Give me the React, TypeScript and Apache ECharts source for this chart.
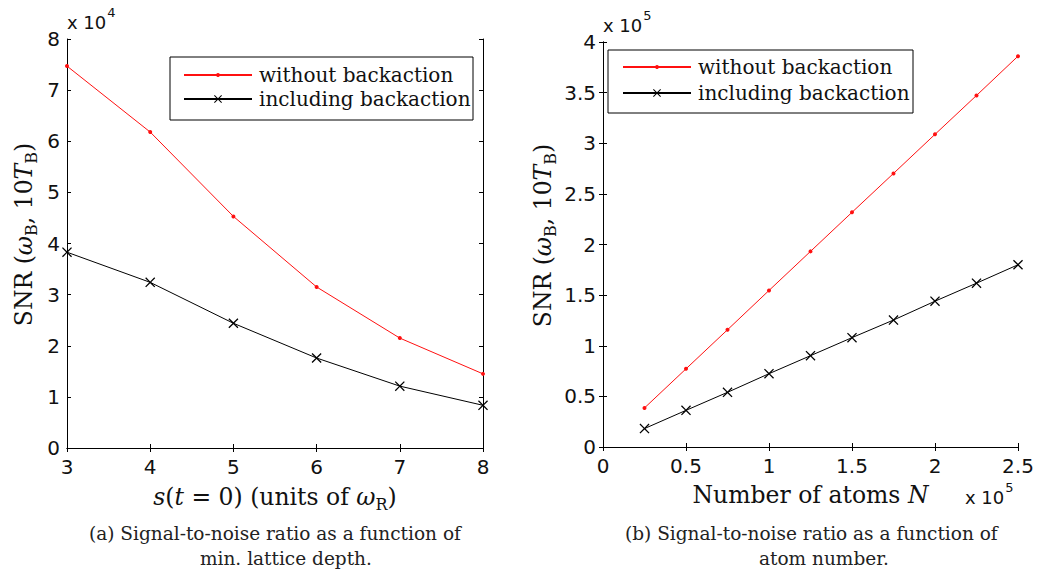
import React, { useEffect, useRef } from "react";
import * as echarts from "echarts";

// Panel (a): SNR versus minimum lattice depth s(t=0), values in units of 1e4
const depthTicks = [3, 4, 5, 6, 7, 8];
const snrTicksA = [0, 1, 2, 3, 4, 5, 6, 7, 8];
const depth = [3, 4, 5, 6, 7, 8];
const snrDepthFree = [7.47, 6.18, 4.53, 3.15, 2.15, 1.45];
const snrDepthBack = [3.83, 3.24, 2.44, 1.76, 1.21, 0.835];

// Panel (b): SNR versus atom number N (units of 1e5), values in units of 1e5
const atomTicks = [0, 0.5, 1, 1.5, 2, 2.5];
const snrTicksB = [0, 0.5, 1, 1.5, 2, 2.5, 3, 3.5, 4];
const atoms = [0.25, 0.5, 0.75, 1, 1.25, 1.5, 1.75, 2, 2.25, 2.5];
const snrAtomsFree = [0.386, 0.772, 1.158, 1.546, 1.932, 2.318, 2.702, 3.088, 3.472, 3.86];
const snrAtomsBack = [0.182, 0.362, 0.54, 0.724, 0.902, 1.08, 1.254, 1.44, 1.618, 1.8];

const NAME_FREE = "without backaction";
const NAME_BACK = "including backaction";

const RED = "#ff1010";
const INK = "#111";
const SERIF = "'DejaVu Serif', serif";
const SANS = "'DejaVu Sans', 'Liberation Sans', sans-serif";

// thin filled cross used as the "x" marker
const CROSS =
  "path://M0,0.9L0.9,0L5,4.1L9.1,0L10,0.9L5.9,5L10,9.1L9.1,10L5,5.9L0.9,10L0,9.1L4.1,5Z";

const pairs = (xs: number[], ys: number[]) => xs.map((x, i) => [x, ys[i]]);

const TITLE_SIZE = 23.5;

const richMath = {
  i: { fontFamily: SERIF, fontSize: TITLE_SIZE, fontStyle: "italic", lineHeight: 28, color: INK },
  s: { fontFamily: SERIF, fontSize: 16, lineHeight: 16, padding: [14, 0, 0, 0], color: INK },
};

const nameStyle = (padding: number[]) => ({
  fontFamily: SERIF,
  fontSize: TITLE_SIZE,
  lineHeight: 28,
  color: INK,
  padding,
  rich: richMath,
});

const tickLabel = { fontFamily: SANS, fontSize: 20, color: INK };
const axisLine = { show: true, lineStyle: { color: "#000", width: 1 } };
const tickIn = { show: true, inside: true, length: 4, lineStyle: { color: "#000", width: 1 } };

function axisRange(ticks: number[]) {
  return { min: ticks[0], max: ticks[ticks.length - 1], interval: ticks[1] - ticks[0] };
}

function makeAxes(gridIndex: number, xTicks: number[], yTicks: number[], xName: string, yName: string, xGap: number, yGap: number) {
  const xr = axisRange(xTicks);
  const yr = axisRange(yTicks);
  const xAxes = [
    {
      type: "value", gridIndex, position: "bottom", ...xr,
      axisLine, axisTick: tickIn, splitLine: { show: false },
      axisLabel: { ...tickLabel, margin: 9 },
      name: xName, nameLocation: "middle", nameGap: xGap, nameTextStyle: nameStyle([0, 0, 0, 0]),
    },
    {
      type: "value", gridIndex, position: "top", ...xr,
      axisLine, axisTick: tickIn, splitLine: { show: false }, axisLabel: { show: false },
    },
  ];
  const yAxes = [
    {
      type: "value", gridIndex, position: "left", ...yr,
      axisLine, axisTick: tickIn, splitLine: { show: false },
      axisLabel: { ...tickLabel, margin: 7 },
      name: yName, nameLocation: "middle", nameRotate: 90, nameGap: yGap,
      nameTextStyle: nameStyle([0, 0, 0, 18]),
    },
    {
      type: "value", gridIndex, position: "right", ...yr,
      axisLine, axisTick: tickIn, splitLine: { show: false }, axisLabel: { show: false },
    },
  ];
  return { xAxes, yAxes };
}

function lineSeries(name: string, xAxisIndex: number, yAxisIndex: number, data: number[][], free: boolean) {
  return {
    type: "line",
    name,
    xAxisIndex,
    yAxisIndex,
    data,
    symbol: free ? "circle" : CROSS,
    symbolSize: free ? 4 : 10,
    showAllSymbol: true,
    lineStyle: { color: free ? RED : "#000", width: 1 },
    itemStyle: { color: free ? RED : "#000", borderWidth: 0 },
    emphasis: { disabled: true },
    z: free ? 3 : 4,
  };
}

function legendItem(name: string, left: number, top: number, itemHeight: number) {
  return {
    data: [name],
    left,
    top,
    orient: "vertical",
    padding: 0,
    itemWidth: 68,
    itemHeight,
    selectedMode: false,
    itemStyle: { borderWidth: 0 },
    textStyle: { fontFamily: SERIF, fontSize: 20, color: INK, padding: [0, 0, 0, 2] },
  };
}

function exponentLabel(x: number, y: number, power: string) {
  return {
    type: "text",
    x,
    y,
    style: {
      text: `{m|x 10}{sup|${power}}`,
      font: `18px ${SANS}`,
      fill: INK,
      verticalAlign: "middle",
      align: "left",
      rich: {
        m: { fontFamily: SANS, fontSize: 18, lineHeight: 20, fill: INK },
        sup: { fontFamily: SANS, fontSize: 13, lineHeight: 13, padding: [0, 0, 20, 1], fill: INK },
      },
    },
  };
}

function caption(x: number, y: number, text: string) {
  return {
    type: "text",
    x,
    y,
    style: {
      text,
      font: `18.5px ${SERIF}`,
      fontFamily: SERIF,
      fontSize: 18.5,
      fill: "#222",
      verticalAlign: "middle",
      align: "left",
    },
  };
}

export default function App() {
  const ref = useRef<HTMLDivElement>(null);

  useEffect(() => {
    if (!ref.current) return;
    const chart = echarts.init(ref.current, null, { renderer: "svg" });

    const yTitle = "SNR ({i|ω}{s|B}, 10{i|T}{s|B})";
    const a = makeAxes(0, depthTicks, snrTicksA, "{i|s}({i|t} = 0) (units of {i|ω}{s|R})", yTitle, 35, 29);
    const b = makeAxes(1, atomTicks, snrTicksB, "Number of atoms {i|N}", yTitle, 34, 46);

    chart.setOption({
      animation: false,
      backgroundColor: "#fff",
      textStyle: { fontFamily: SERIF },
      grid: [
        { left: 67, top: 39, width: 416, height: 409, containLabel: false },
        { left: 603, top: 42, width: 415, height: 405, containLabel: false },
      ],
      xAxis: [...a.xAxes, ...b.xAxes],
      yAxis: [...a.yAxes, ...b.yAxes],
      legend: [
        legendItem(NAME_FREE, 183, 65, 5),
        legendItem(NAME_BACK, 183, 89, 10),
        legendItem(NAME_FREE, 622, 57, 5),
        legendItem(NAME_BACK, 622, 83, 10),
      ],
      series: [
        lineSeries(NAME_FREE, 0, 0, pairs(depth, snrDepthFree), true),
        lineSeries(NAME_BACK, 0, 0, pairs(depth, snrDepthBack), false),
        lineSeries(NAME_FREE, 2, 2, pairs(atoms, snrAtomsFree), true),
        lineSeries(NAME_BACK, 2, 2, pairs(atoms, snrAtomsBack), false),
      ],
      graphic: [
        {
          type: "rect",
          shape: { x: 170, y: 57, width: 303, height: 63 },
          style: { fill: "none", stroke: "#000", lineWidth: 1 },
          z: 10,
        },
        {
          type: "rect",
          shape: { x: 608, y: 50, width: 305, height: 63 },
          style: { fill: "none", stroke: "#000", lineWidth: 1 },
          z: 10,
        },
        exponentLabel(67, 22, "4"),
        exponentLabel(603, 25, "5"),
        exponentLabel(965, 497, "5"),
        caption(89, 533, "(a) Signal-to-noise ratio as a function of"),
        caption(200, 558, "min. lattice depth."),
        caption(625, 533, "(b) Signal-to-noise ratio as a function of"),
        caption(759, 558, "atom number."),
      ],
    });

    return () => chart.dispose();
  }, []);

  return (
    <div
      ref={ref}
      style={{ position: "fixed", left: 0, top: 0, width: 1037, height: 571, background: "#fff" }}
    />
  );
}
